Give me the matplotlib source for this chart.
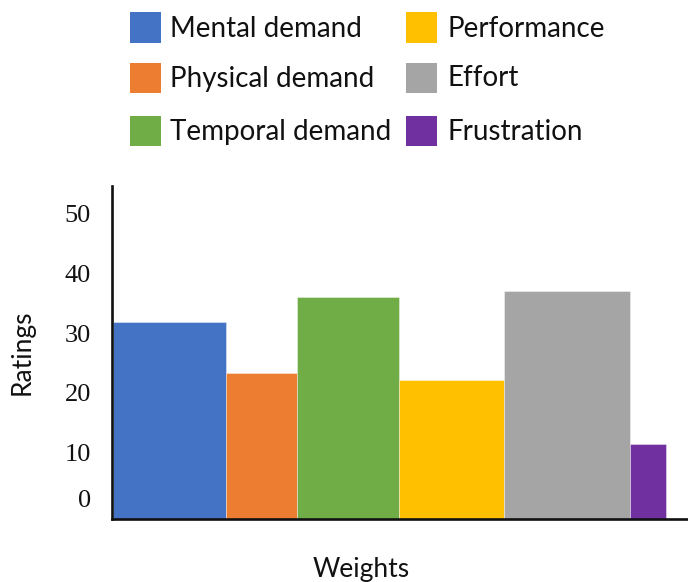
import matplotlib
matplotlib.use("Agg")
import matplotlib.pyplot as plt
from matplotlib.patches import Rectangle
from matplotlib.transforms import ScaledTranslation

# Workload dimensions: weight (bar width) and rating (bar height)
categories = ["Mental demand", "Physical demand", "Temporal demand",
              "Performance", "Effort", "Frustration"]
weights = [3.07, 1.91, 2.78, 2.86, 3.41, 0.97]
ratings = [31.9, 23.4, 36.0, 22.1, 37.1, 11.4]
colors = ["#4472C4", "#ED7D31", "#70AD47", "#FFC000", "#A5A5A5", "#7030A0"]
ytick_values = [0, 10, 20, 30, 40, 50]
ytick_labels = ["0", "10", "20", "30", "40", "50"]

SANS = "Lato"
SERIF = "Liberation Serif"

W, H = 688, 582
fig = plt.figure(figsize=(W / 100, H / 100), dpi=100)

# main axes, placed in pixel terms
ax_l, ax_r, ax_b, ax_t = 111.7, 688.0, 518.5, 186.0
ax = fig.add_axes([ax_l / W, (H - ax_b) / H, (ax_r - ax_l) / W, (ax_b - ax_t) / H])

floor = -1.0
lefts = []
pos = 0.0
for w in weights:
    lefts.append(pos)
    pos += w

ax.bar(lefts, [r - floor for r in ratings], width=weights, bottom=floor,
       align="edge", color=colors, edgecolor=(1, 1, 1, 0.45), linewidth=0.6)

ax.set_xlim(-0.035, 15.6)
ax.set_ylim(floor, 54.6)

for side in ("top", "right"):
    ax.spines[side].set_visible(False)
for side in ("left", "bottom"):
    ax.spines[side].set_linewidth(1.9)
    ax.spines[side].set_color("#111111")

ax.set_xticks([])
ax.set_yticks(ytick_values)
ax.set_yticklabels(ytick_labels, fontfamily=SERIF, fontsize=19, color="#111111")
ax.tick_params(axis="y", length=0, pad=15)
# the zero label sits a little higher than its tick
zero_lbl = ax.get_yticklabels()[0]
zero_lbl.set_transform(zero_lbl.get_transform() +
                       ScaledTranslation(0, 14 / 100, fig.dpi_scale_trans))

# overlay in pixel coordinates for the legend and axis titles
ov = fig.add_axes([0, 0, 1, 1], facecolor="none")
ov.set_xlim(0, W)
ov.set_ylim(H, 0)
ov.axis("off")

legend_cols = [(130, 170), (406, 448)]
legend_rows = [(12, 36.7), (62.5, 86.5), (115.5, 140)]
for i, (name, c) in enumerate(zip(categories, colors)):
    px, tx = legend_cols[i // 3]
    top, base = legend_rows[i % 3]
    ov.add_patch(Rectangle((px, top), 30.7, 30.5, facecolor=c, edgecolor="none"))
    ov.text(tx, base, name, fontfamily=SANS, fontsize=20, color="#111111",
            ha="left", va="baseline")

ov.text(361, 576.7, "Weights", fontfamily=SANS, fontsize=19, color="#111111",
        ha="center", va="baseline")
ov.text(22, 352, "Ratings", fontfamily=SANS, fontsize=19, color="#111111",
        ha="center", va="center", rotation=90)

fig.savefig("out.png", dpi=100)
